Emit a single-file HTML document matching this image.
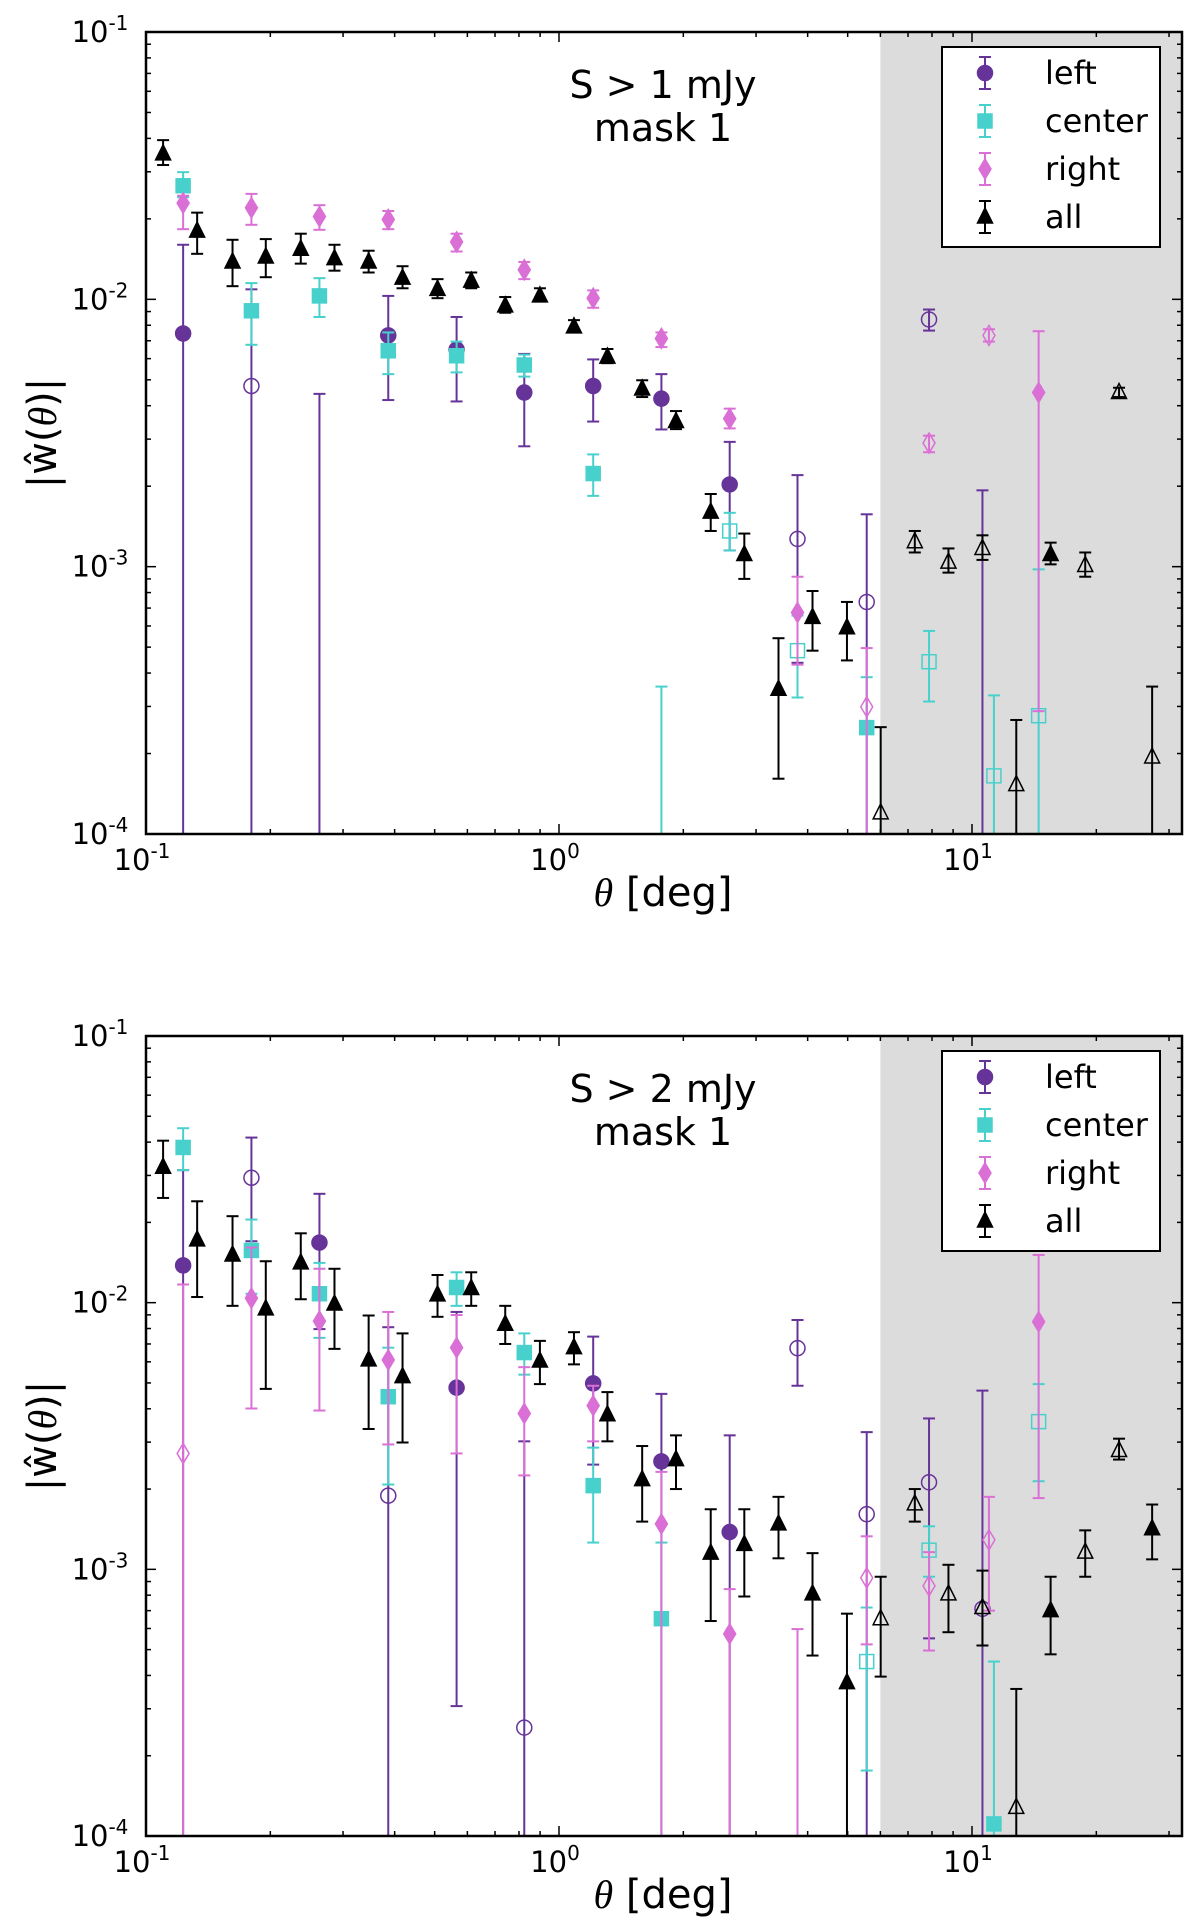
<!DOCTYPE html>
<html><head><meta charset="utf-8">
<style>
html,body{margin:0;padding:0;background:#fff;width:1200px;height:1923px;overflow:hidden;}
svg{display:block;overflow:hidden;font-family:"DejaVu Sans","Liberation Sans",sans-serif;}
</style></head>
<body>
<svg id="fig" width="1200" height="1923" viewBox="0 0 1200 1923" xmlns="http://www.w3.org/2000/svg"></svg>
<script>
// ---------- data (panel 1: S > 1 mJy) ----------
const p1AllTheta=[0.110,0.133,0.162,0.195,0.237,0.286,0.346,0.418,0.508,0.613,0.741,0.899,1.087,1.31,1.59,1.92,2.33,2.81,3.40,4.11,4.98,6.01,7.27,8.77,10.6,12.8,15.5,18.8,22.7,27.3];
const p1AllVal=[0.0350,0.0180,0.0138,0.0144,0.0154,0.0142,0.0138,0.0120,0.0109,0.0117,0.00945,0.0103,0.00789,0.00608,0.00462,0.00349,0.00160,0.00111,0.000348,0.000646,0.000591,0.000120,0.00124,0.00104,0.00117,0.000153,0.00111,0.00101,0.00448,0.000194];
const p1AllHi=[0.0394,0.0211,0.0167,0.0168,0.0176,0.0160,0.0152,0.0133,0.0119,0.0126,0.0102,0.0110,0.00836,0.00652,0.00498,0.00382,0.00187,0.00133,0.000540,0.000811,0.000738,0.000251,0.00136,0.00117,0.00131,0.000267,0.00123,0.00113,0.00467,0.000356];
const p1AllLo=[0.0318,0.0148,0.0112,0.0121,0.0136,0.0128,0.0126,0.0110,0.0101,0.0110,0.00891,0.00981,0.00752,0.00577,0.00431,0.00327,0.00136,0.00090,0.000161,0.000485,0.000446,1e-6,0.00113,0.00095,0.00106,1e-6,0.00102,0.000917,0.00431,1e-6];
const p1AllOpen=[0,0,0,0,0,0,0,0,0,0,0,0,0,0,0,0,0,0,0,0,0,1,1,1,1,1,0,1,1,1];

const p1LeftTheta=[0.123,0.180,0.263,0.386,0.565,0.824,1.21,1.77,2.59,3.78,5.56,7.87,10.6];
const p1LeftVal=[0.00745,0.00474,1e-6,0.00733,0.00649,0.00448,0.00474,0.00425,0.00203,0.00127,0.000738,0.00841,1e-6];
const p1LeftHi=[0.0160,0.0109,0.00443,0.0103,0.00859,0.00625,0.00596,0.00525,0.00293,0.00220,0.00157,0.00916,0.00193];
const p1LeftLo=[1e-6,1e-6,1e-6,0.00420,0.00415,0.00282,0.00349,0.00326,0.00115,0.000437,1e-6,0.00764,1e-6];
const p1LeftOpen=[0,1,0,0,0,0,0,0,0,1,1,1,0];

const p1CenTheta=[0.123,0.180,0.263,0.386,0.565,0.824,1.21,1.77,2.59,3.78,5.56,7.87,11.3,14.5];
const p1CenVal=[0.0266,0.00906,0.0103,0.00642,0.00615,0.00568,0.00223,1e-6,0.00136,0.000485,0.000250,0.000441,0.000165,0.000277];
const p1CenHi=[0.0299,0.0115,0.0120,0.00752,0.00695,0.00621,0.00263,0.000356,0.00159,0.000656,0.000386,0.000575,0.000330,0.000977];
const p1CenLo=[0.0241,0.00676,0.00859,0.00525,0.00533,0.00514,0.00184,1e-6,0.00115,0.000324,1e-6,0.000313,1e-6,1e-6];
const p1CenOpen=[0,0,0,0,0,0,0,0,1,1,0,1,1,1];

const p1RightTheta=[0.123,0.180,0.263,0.386,0.565,0.824,1.21,1.77,2.59,3.78,5.56,7.87,10.99,14.5];
const p1RightVal=[0.0229,0.0220,0.0204,0.0199,0.0164,0.0129,0.0101,0.00714,0.00358,0.000674,0.000299,0.00290,0.00733,0.00448];
const p1RightHi=[0.0244,0.0248,0.0225,0.0214,0.0176,0.0138,0.0108,0.00752,0.00390,0.000917,0.000496,0.00309,0.00773,0.00760];
const p1RightLo=[0.0183,0.0190,0.0182,0.0183,0.0151,0.0119,0.00930,0.00663,0.00329,0.000430,1e-6,0.00268,0.00695,0.000288];
const p1RightOpen=[0,0,0,0,0,0,0,0,0,0,1,1,1,0];

// ---------- data (panel 2: S > 2 mJy) ----------
const p2AllTheta=[0.110,0.133,0.162,0.195,0.237,0.286,0.346,0.418,0.508,0.613,0.741,0.899,1.087,1.31,1.59,1.92,2.33,2.81,3.40,4.11,4.98,6.01,7.27,8.77,10.6,12.8,15.5,18.8,22.7,27.3];
const p2AllVal=[0.0322,0.0172,0.0151,0.00948,0.0141,0.00989,0.00610,0.00528,0.0107,0.0113,0.00830,0.00604,0.00678,0.00380,0.00217,0.00258,0.00115,0.00124,0.00148,0.000809,0.000376,0.000653,0.00176,0.000809,0.000719,0.000128,0.000700,0.00116,0.00279,0.00142];
const p2AllHi=[0.0405,0.0240,0.0211,0.0143,0.0182,0.0134,0.00895,0.00767,0.0127,0.0130,0.00973,0.00719,0.00775,0.00462,0.00290,0.00318,0.00168,0.00168,0.00187,0.00115,0.000682,0.000938,0.00200,0.00104,0.000989,0.000356,0.000938,0.00140,0.00309,0.00175];
const p2AllLo=[0.0247,0.0105,0.00973,0.00475,0.0103,0.00671,0.00336,0.00299,0.00885,0.00973,0.00700,0.00495,0.00587,0.00302,0.00151,0.00200,0.000640,0.000791,0.00110,0.000475,1e-6,0.000396,0.00151,0.000581,0.000518,1e-6,0.000480,0.000938,0.00258,0.00109];
const p2AllOpen=[0,0,0,0,0,0,0,0,0,0,0,0,0,0,0,0,0,0,0,0,0,1,1,1,1,1,0,1,1,0];

const p2LeftTheta=[0.123,0.180,0.263,0.386,0.565,0.824,1.21,1.77,2.59,3.78,5.56,7.87,10.6];
const p2LeftVal=[0.0138,0.0294,0.0168,0.00189,0.00480,0.000255,0.00498,0.00254,0.00138,0.00675,0.00161,0.00212,0.000711];
const p2LeftHi=[0.0314,0.0416,0.0256,0.00809,0.00923,0.00302,0.00746,0.00455,0.00318,0.00861,0.00327,0.00368,0.00468];
const p2LeftLo=[1e-6,0.0170,0.00796,1e-6,0.000307,1e-6,0.00247,1e-6,1e-6,0.00488,1e-6,0.000551,1e-6];
const p2LeftOpen=[0,1,0,1,0,1,0,0,0,1,1,1,1];

const p2CenTheta=[0.123,0.180,0.263,0.386,0.565,0.824,1.21,1.77,5.56,7.87,11.3,14.5];
const p2CenVal=[0.0382,0.0157,0.0108,0.00444,0.0114,0.00650,0.00206,0.000653,0.000451,0.00118,0.000111,0.00358];
const p2CenHi=[0.0451,0.0205,0.0141,0.00678,0.0130,0.00767,0.00286,0.00126,0.000719,0.00145,0.000451,0.00495];
const p2CenLo=[0.0314,0.0108,0.00738,0.00208,0.00973,0.00537,0.00126,1e-6,0.000176,0.000938,1e-6,0.00214];
const p2CenOpen=[0,0,0,0,0,0,0,0,1,1,0,1];

const p2RightTheta=[0.123,0.180,0.263,0.386,0.565,0.824,1.21,1.77,2.59,3.78,5.56,7.87,10.99,14.5];
const p2RightVal=[0.00272,0.0104,0.00853,0.00610,0.00678,0.00384,0.00411,0.00148,0.000573,1e-6,0.000929,0.000867,0.00129,0.00848];
const p2RightHi=[0.0117,0.0161,0.0134,0.00923,0.00899,0.00573,0.00488,0.00232,0.000843,0.000597,0.00133,0.00116,0.00187,0.0151];
const p2RightLo=[1e-6,0.00401,0.00394,0.00294,0.00272,0.00225,0.00302,1e-6,1e-6,1e-6,0.000523,0.000496,0.000700,0.00185];
const p2RightOpen=[1,0,0,0,0,0,0,0,0,0,1,1,1,0];

const seriesNames=["left","center","right","all"];
const seriesColors=["#663399","#48d1cc","#da70d6","#000000"];
const xTickLabels=["-1","0","1"];
const yTickLabels=["-1","-2","-3","-4"];
const shadeStart=6.0;

// ---------- drawing ----------
const NS="http://www.w3.org/2000/svg";
const fig=document.getElementById('fig');
function mk(tag,attrs,parent){const e=document.createElementNS(NS,tag);for(const k in attrs)e.setAttribute(k,attrs[k]);(parent||fig).appendChild(e);return e;}

const X0=146,X1=1182,DEC=413;
function xScale(t){return X0+(Math.log10(t)+1)*DEC;}

function drawPanel(idx,top,bottom,title2,series){
  const ydec=(bottom-top)/3;
  const yScale=v=>top+(-1-Math.log10(v))*ydec;
  const g=mk('g',{});
  
  
  const cid='clip'+idx;
  const cp=mk('clipPath',{id:cid},g);
  mk('rect',{x:X0,y:top,width:X1-X0,height:bottom-top},cp);
  const sh=mk('rect',{x:xScale(shadeStart),y:top,width:X1-xScale(shadeStart),height:bottom-top,fill:'#dcdcdc'},g);
  
  
  const tg=mk('g',{stroke:'#000','stroke-width':1.5},g);
  for(let d=-1;d<=1;d++){
    for(let m=1;m<=9;m++){
      const v=m*Math.pow(10,d);const x=xScale(v);if(x>X1+0.5)continue;
      const L=m===1?10:5;
      mk('line',{x1:x,x2:x,y1:bottom,y2:bottom-L},tg);
      mk('line',{x1:x,x2:x,y1:top,y2:top+L},tg);
    }
  }
  for(let d=-4;d<=-2;d++){
    for(let m=1;m<=9;m++){
      const y=yScale(m*Math.pow(10,d));const L=m===1?10:5;
      mk('line',{x1:X0,x2:X0+L,y1:y,y2:y},tg);
      mk('line',{x1:X1,x2:X1-L,y1:y,y2:y},tg);
    }
  }
  xTickLabels.forEach((s,i)=>{
    const t=mk('text',{x:xScale(Math.pow(10,+s))-4,y:bottom+36,'text-anchor':'middle','font-size':29},g);
    
    
    t.innerHTML='10<tspan dy="-12" font-size="20">'+s+'</tspan>';
  });
  yTickLabels.forEach((s,i)=>{
    const t=mk('text',{x:X0-46,y:yScale(Math.pow(10,+s))+10,'text-anchor':'middle','font-size':29},g);
    
    
    t.innerHTML='10<tspan dy="-12" font-size="20">'+s+'</tspan>';
  });
  const xl=mk('text',{x:663,y:bottom+72,'text-anchor':'middle','font-size':40},g);
  
  
  xl.innerHTML='<tspan font-family="Liberation Serif" font-style="italic">θ</tspan> [deg]';
  const yc=(top+bottom)/2;
  const yl=mk('text',{x:0,y:0,'text-anchor':'middle','font-size':40,transform:'translate(56,'+yc+') rotate(-90)'},g);
  
  
  yl.innerHTML='|ŵ(<tspan font-family="Liberation Serif" font-style="italic">θ</tspan>)|';
  const t1=mk('text',{x:663,y:top+66,'text-anchor':'middle','font-size':38},g);
  t1.textContent=title2;
  
  
  const t2=mk('text',{x:663,y:top+109,'text-anchor':'middle','font-size':38},g);
  t2.textContent='mask 1';
  
  
  const dg=mk('g',{'clip-path':'url(#'+cid+')'},g);
  series.forEach((s,si)=>{
    const col=seriesColors[si];
    const sg=mk('g',{},dg);
    
    
    s.theta.forEach((th,i)=>{
      const x=xScale(th);
      const yh=yScale(s.hi[i]),yl2=Math.min(yScale(s.lo[i]),bottom+20),yv=yScale(s.val[i]);
      const eb=mk('g',{stroke:col,'stroke-width':2},sg);
      
      
      mk('line',{x1:x,x2:x,y1:yh,y2:yl2},eb);
      mk('line',{x1:x-6,x2:x+6,y1:yh,y2:yh},eb);
      mk('line',{x1:x-6,x2:x+6,y1:yl2,y2:yl2},eb);
      drawMarker(sg,si,x,yv,col,s.open[i]);
    });
  });
  const fr=mk('rect',{x:X0,y:top,width:X1-X0,height:bottom-top,fill:'none',stroke:'#000','stroke-width':2.5},g);
  
  
  const lg=mk('g',{},g);
  
  
  const ly=top+15;
  mk('rect',{x:942,y:ly,width:218,height:200,fill:'#fff',stroke:'#000','stroke-width':2},lg);
  seriesNames.forEach((n,si)=>{
    const cy=ly+26+si*48,col=seriesColors[si];
    const le=mk('g',{},lg);
    
    
    mk('line',{x1:985,x2:985,y1:cy-16,y2:cy+16,stroke:col,'stroke-width':2},le);
    mk('line',{x1:979,x2:991,y1:cy-16,y2:cy-16,stroke:col,'stroke-width':2},le);
    mk('line',{x1:979,x2:991,y1:cy+16,y2:cy+16,stroke:col,'stroke-width':2},le);
    drawMarker(le,si,985,cy,col,0);
    const tx=mk('text',{x:1045,y:cy+11,'font-size':32},le);
    tx.textContent=n;
  });
}
function drawMarker(p,si,x,y,col,open){
  const f=open?'none':col;let m;
  if(si===0)m=mk('circle',{cx:x,cy:y,r:7.5,fill:f,stroke:col,'stroke-width':1.5},p);
  else if(si===1)m=mk('rect',{x:x-7,y:y-7,width:14,height:14,fill:f,stroke:col,'stroke-width':1.5},p);
  else if(si===2)m=mk('path',{d:`M${x} ${y-10}L${x+6} ${y}L${x} ${y+10}L${x-6} ${y}Z`,fill:f,stroke:col,'stroke-width':1.5},p);
  else m=mk('path',{d:`M${x} ${y-9}L${x+7.5} ${y+6}L${x-7.5} ${y+6}Z`,fill:f,stroke:col,'stroke-width':1.5},p);
  
  
}
drawPanel(0,32,834,'S > 1 mJy',[
  {theta:p1LeftTheta,val:p1LeftVal,hi:p1LeftHi,lo:p1LeftLo,open:p1LeftOpen},
  {theta:p1CenTheta,val:p1CenVal,hi:p1CenHi,lo:p1CenLo,open:p1CenOpen},
  {theta:p1RightTheta,val:p1RightVal,hi:p1RightHi,lo:p1RightLo,open:p1RightOpen},
  {theta:p1AllTheta,val:p1AllVal,hi:p1AllHi,lo:p1AllLo,open:p1AllOpen}]);
drawPanel(1,1036,1836,'S > 2 mJy',[
  {theta:p2LeftTheta,val:p2LeftVal,hi:p2LeftHi,lo:p2LeftLo,open:p2LeftOpen},
  {theta:p2CenTheta,val:p2CenVal,hi:p2CenHi,lo:p2CenLo,open:p2CenOpen},
  {theta:p2RightTheta,val:p2RightVal,hi:p2RightHi,lo:p2RightLo,open:p2RightOpen},
  {theta:p2AllTheta,val:p2AllVal,hi:p2AllHi,lo:p2AllLo,open:p2AllOpen}]);
</script>
</body></html>
